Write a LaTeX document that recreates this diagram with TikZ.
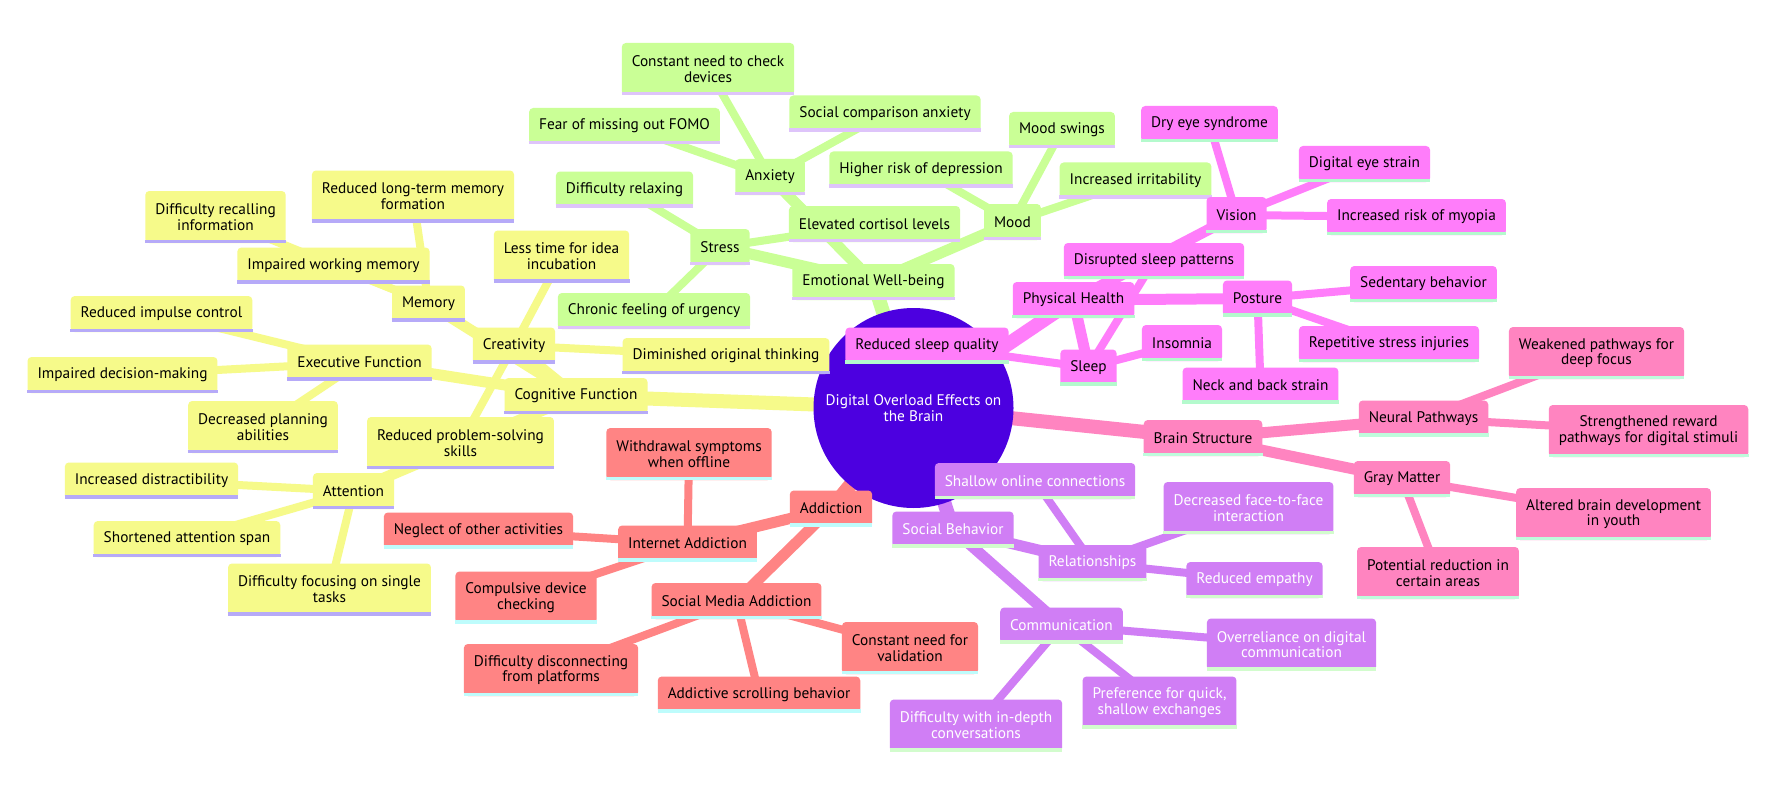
\documentclass[tikz,border=0pt]{standalone}
\usepackage{fontspec}
\setmainfont{PT Sans}
\usetikzlibrary{backgrounds}
\definecolor{rootc}{RGB}{76,0,224}
\definecolor{yelc}{RGB}{246,250,138}
\definecolor{yels}{RGB}{182,170,248}
\definecolor{grnc}{RGB}{202,255,150}
\definecolor{grns}{RGB}{222,196,250}
\definecolor{magc}{RGB}{255,125,250}
\definecolor{mags}{RGB}{180,250,205}
\definecolor{pnkc}{RGB}{255,132,192}
\definecolor{pnks}{RGB}{190,252,220}
\definecolor{purc}{RGB}{208,126,245}
\definecolor{purs}{RGB}{210,252,205}
\definecolor{salc}{RGB}{255,132,132}
\definecolor{sals}{RGB}{190,252,252}
\tikzset{
  box/.style={rectangle, rounded corners=3pt, inner xsep=7.5pt, inner ysep=2pt,
    minimum height=27pt, align=center, font=\fontsize{11.5}{11.8}\selectfont},
  two/.style={minimum height=39pt},
  yel/.style={box, fill=yelc, text=black},
  grn/.style={box, fill=grnc, text=black},
  mag/.style={box, fill=magc, text=black},
  pnk/.style={box, fill=pnkc, text=black},
  pur/.style={box, fill=purc, text=white},
  sal/.style={box, fill=salc, text=black},
  rootnode/.style={circle, fill=rootc, text=white, inner sep=0pt, minimum size=150pt,
    align=center, font=\fontsize{11.5}{11.8}\selectfont},
  ea/.style={line width=10.5pt},
  eb/.style={line width=8.25pt},
  ec/.style={line width=6pt},
}
\newcommand\mmn[5]{%
  \node[#1] (#3) at (#4) {#5};
  \draw[#2, line width=2.6pt] ([yshift=1.3pt]#3.south west) -- ([yshift=1.3pt]#3.south east);
}
\begin{document}
\begin{tikzpicture}[x=0.75pt,y=-0.75pt]
\useasboundingbox (0,0) rectangle (1790,806);
\node[rootnode] (root) at (913.5,408) {Digital Overload Effects on\\the Brain};
% Cognitive
\mmn{yel}{yels}{cog}{576,396}{Cognitive Function}
\mmn{yel}{yels}{att}{353.5,491}{Attention}
\mmn{yel}{yels}{att1}{151.5,480.5}{Increased distractibility}
\mmn{yel}{yels}{att2}{187,539}{Shortened attention span}
\mmn{yel,two}{yels}{att3}{329.5,589.5}{Difficulty focusing on single\\tasks}
\mmn{yel}{yels}{mem}{428.5,303.5}{Memory}
\mmn{yel}{yels}{mem1}{333.5,265.5}{Impaired working memory}
\mmn{yel,two}{yels}{mem2}{413,196.5}{Reduced long-term memory\\formation}
\mmn{yel,two}{yels}{mem3}{215.5,217}{Difficulty recalling\\information}
\mmn{yel}{yels}{exe}{359.5,362.5}{Executive Function}
\mmn{yel}{yels}{exe1}{161.5,314}{Reduced impulse control}
\mmn{yel}{yels}{exe2}{122.5,375}{Impaired decision-making}
\mmn{yel,two}{yels}{exe3}{263,427}{Decreased planning\\abilities}
\mmn{yel}{yels}{cre}{514,345.5}{Creativity}
\mmn{yel,two}{yels}{cre1}{561.5,256.5}{Less time for idea\\incubation}
\mmn{yel}{yels}{cre2}{726,356}{Diminished original thinking}
\mmn{yel,two}{yels}{cre3}{460.5,443}{Reduced problem-solving\\skills}
% Emotional
\mmn{grn}{grns}{emo}{873.5,282}{Emotional Well-being}
\mmn{grn}{grns}{anx}{770,177}{Anxiety}
\mmn{grn,two}{grns}{anx1}{708,69}{Constant need to check\\devices}
\mmn{grn}{grns}{anx2}{885,113.5}{Social comparison anxiety}
\mmn{grn}{grns}{anx3}{624.5,126}{Fear of missing out FOMO}
\mmn{grn}{grns}{str}{720,247}{Stress}
\mmn{grn}{grns}{str1}{624.5,189.5}{Difficulty relaxing}
\mmn{grn}{grns}{str2}{874.5,224}{Elevated cortisol levels}
\mmn{grn}{grns}{str3}{654,311}{Chronic feeling of urgency}
\mmn{grn}{grns}{moo}{1012.5,222}{Mood}
\mmn{grn}{grns}{moo1}{1062,130}{Mood swings}
\mmn{grn}{grns}{moo2}{1135.5,180.5}{Increased irritability}
\mmn{grn}{grns}{moo3}{921,169.5}{Higher risk of depression}
% Physical
\mmn{mag}{mags}{phy}{1073.5,300}{Physical Health}
\mmn{mag}{mags}{slp}{1088.5,367.5}{Sleep}
\mmn{mag}{mags}{slp1}{1182,343}{Insomnia}
\mmn{mag}{mags}{slp2}{927,345.5}{Reduced sleep quality}
\mmn{mag}{mags}{slp3}{1154,261}{Disrupted sleep patterns}
\mmn{mag}{mags}{vis}{1236.5,215}{Vision}
\mmn{mag}{mags}{vis1}{1209.5,124}{Dry eye syndrome}
\mmn{mag}{mags}{vis2}{1364.5,164}{Digital eye strain}
\mmn{mag}{mags}{vis3}{1416.5,217}{Increased risk of myopia}
\mmn{mag}{mags}{pos}{1257.5,298.5}{Posture}
\mmn{mag}{mags}{pos1}{1423.5,284}{Sedentary behavior}
\mmn{mag}{mags}{pos2}{1389,344}{Repetitive stress injuries}
\mmn{mag}{mags}{pos3}{1260.5,385.5}{Neck and back strain}
% Brain
\mmn{pnk}{pnks}{bra}{1203,438}{Brain Structure}
\mmn{pnk}{pnks}{neu}{1423.5,418.5}{Neural Pathways}
\mmn{pnk,two}{pnks}{neu1}{1596.5,353}{Weakened pathways for\\deep focus}
\mmn{pnk,two}{pnks}{neu2}{1648.5,431}{Strengthened reward\\pathways for digital stimuli}
\mmn{pnk}{pnks}{gra}{1402,479}{Gray Matter}
\mmn{pnk,two}{pnks}{gra1}{1438,573}{Potential reduction in\\certain areas}
\mmn{pnk,two}{pnks}{gra2}{1613.5,514}{Altered brain development\\in youth}
% Social
\mmn{pur}{purs}{soc}{953,529.5}{Social Behavior}
\mmn{pur}{purs}{rel}{1092.5,563}{Relationships}
\mmn{pur}{purs}{rel1}{1035,481}{Shallow online connections}
\mmn{pur,two}{purs}{rel2}{1248.5,508}{Decreased face-to-face\\interaction}
\mmn{pur}{purs}{rel3}{1254.5,580}{Reduced empathy}
\mmn{pur}{purs}{com}{1061.5,625.5}{Communication}
\mmn{pur,two}{purs}{com1}{976,725.5}{Difficulty with in-depth\\conversations}
\mmn{pur,two}{purs}{com2}{1159.5,702.5}{Preference for quick,\\shallow exchanges}
\mmn{pur,two}{purs}{com3}{1291.5,644.5}{Overreliance on digital\\communication}
% Addiction
\mmn{sal}{sals}{add}{831,508.5}{Addiction}
\mmn{sal}{sals}{int}{687.5,543.5}{Internet Addiction}
\mmn{sal}{sals}{int1}{478.5,530.5}{Neglect of other activities}
\mmn{sal,two}{sals}{int2}{526,597.5}{Compulsive device\\checking}
\mmn{sal,two}{sals}{int3}{689,454}{Withdrawal symptoms\\when offline}
\mmn{sal}{sals}{sma}{736.5,601}{Social Media Addiction}
\mmn{sal,two}{sals}{sma1}{910,648}{Constant need for\\validation}
\mmn{sal}{sals}{sma2}{759,694.5}{Addictive scrolling behavior}
\mmn{sal,two}{sals}{sma3}{551,670}{Difficulty disconnecting\\from platforms}
\begin{scope}[on background layer]
\fill[white] (0,0) rectangle (1790,806);
% root edges
\draw[yelc,ea] (root.center) -- (cog.center);
\draw[grnc,ea] (root.center) -- (emo.center);
\draw[magc,ea] (root.center) -- (phy.center);
\draw[pnkc,ea] (root.center) -- (bra.center);
\draw[purc,ea] (root.center) -- (soc.center);
\draw[salc,ea] (root.center) -- (add.center);
% level 2
\foreach \c in {att,mem,exe,cre} \draw[yelc,eb] (cog.center) -- (\c.center);
\foreach \c in {anx,str,moo} \draw[grnc,eb] (emo.center) -- (\c.center);
\foreach \c in {slp,vis,pos} \draw[magc,eb] (phy.center) -- (\c.center);
\foreach \c in {neu,gra} \draw[pnkc,eb] (bra.center) -- (\c.center);
\foreach \c in {rel,com} \draw[purc,eb] (soc.center) -- (\c.center);
\foreach \c in {int,sma} \draw[salc,eb] (add.center) -- (\c.center);
% level 3
\foreach \p in {att,mem,exe,cre} \foreach \i in {1,2,3} \draw[yelc,ec] (\p.center) -- (\p\i.center);
\foreach \p in {anx,str,moo} \foreach \i in {1,2,3} \draw[grnc,ec] (\p.center) -- (\p\i.center);
\foreach \p in {slp,vis,pos} \foreach \i in {1,2,3} \draw[magc,ec] (\p.center) -- (\p\i.center);
\foreach \p in {neu,gra} \foreach \i in {1,2} \draw[pnkc,ec] (\p.center) -- (\p\i.center);
\foreach \p in {rel,com} \foreach \i in {1,2,3} \draw[purc,ec] (\p.center) -- (\p\i.center);
\foreach \p in {int,sma} \foreach \i in {1,2,3} \draw[salc,ec] (\p.center) -- (\p\i.center);
\end{scope}
\end{tikzpicture}
\end{document}
